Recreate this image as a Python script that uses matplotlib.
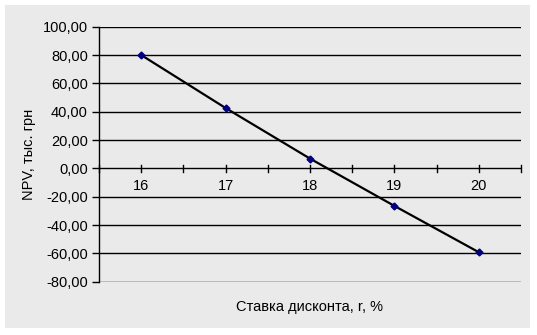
import matplotlib.pyplot as plt
from matplotlib.patches import Rectangle
from matplotlib.ticker import FuncFormatter

plt.rcParams['font.family'] = ['Liberation Sans', 'DejaVu Sans']

# данные
rate = [16, 17, 18, 19, 20]
npv = [80.0, 42.6, 6.9, -26.5, -59.2]
y_ticks = [-80, -60, -40, -20, 0, 20, 40, 60, 80, 100]

W, H = 537, 335
fig = plt.figure(figsize=(W / 100, H / 100), dpi=100, facecolor='white')
bg = '#eaeaea'
fs = 10.5

# серый фон диаграммы
fig.patches.append(Rectangle((5 / W, 1 - 328 / H), 525 / W, 323 / H,
                             transform=fig.transFigure, facecolor=bg,
                             edgecolor='none', zorder=-5))

ax = fig.add_axes([99 / W, 1 - 281.7 / H, (521 - 99) / W, (281.7 - 26.7) / H])
ax.set_facecolor(bg)

ax.plot(rate, npv, color='black', lw=1.6, marker='D', ms=3.5,
        mfc='#000080', mec='#000080', zorder=3)

ax.set_xlim(15.5, 20.5)
ax.set_ylim(-80, 100)
ax.set_yticks(y_ticks)
ax.yaxis.set_major_formatter(FuncFormatter(lambda v, p: f'{v:.2f}'.replace('.', ',')))
for y in y_ticks:
    ax.axhline(y, color='black', lw=1, zorder=1)

for s in ['top', 'right', 'bottom']:
    ax.spines[s].set_visible(False)
ax.spines['left'].set_linewidth(1)

ax.tick_params(axis='y', direction='out', length=5, width=1, labelsize=fs, pad=3)
ax.tick_params(axis='x', bottom=False, labelbottom=False)

# ось X проходит через ноль
ticks_x = [15.5, 16, 16.5, 17, 17.5, 18, 18.5, 19, 19.5, 20, 20.5]
for t in ticks_x:
    ax.plot([t, t], [-2.5, 2.5], color='black', lw=1, zorder=2, clip_on=False)
for r in rate:
    ax.text(r, -12.4, str(r), ha='center', va='center', fontsize=fs)

ax.set_ylabel('NPV, тыс. грн', fontsize=fs, labelpad=5)
fig.text(310 / W, 1 - 307 / H, 'Ставка дисконта, r, %', ha='center', va='center', fontsize=fs)

fig.savefig('out.png', dpi=100, facecolor='white')
